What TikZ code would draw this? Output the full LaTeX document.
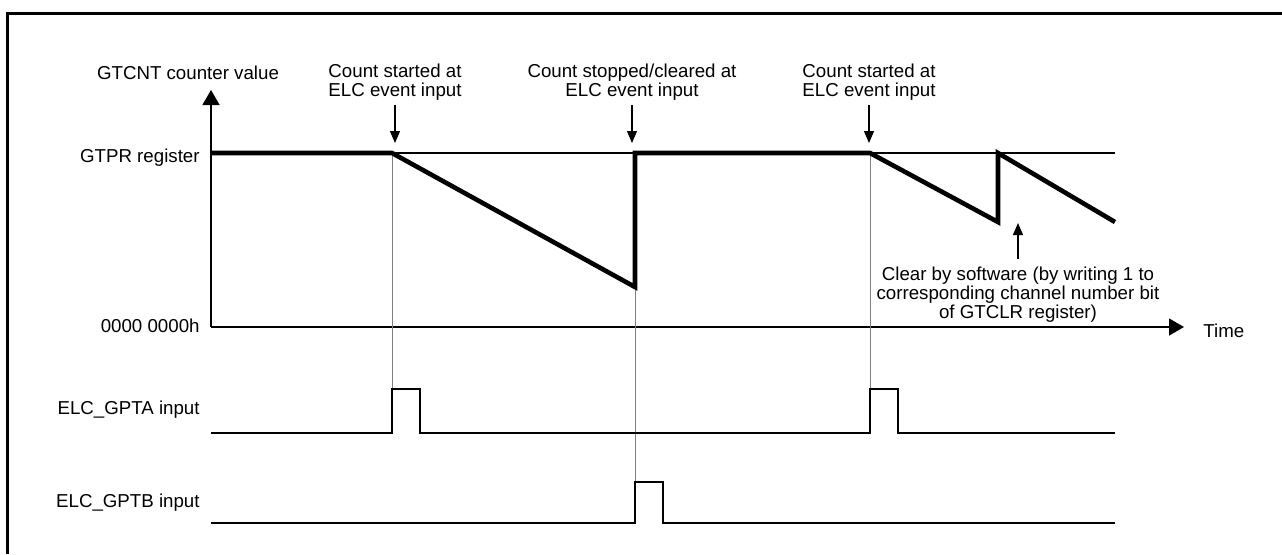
\documentclass[tikz,border=0pt]{standalone}
\usepackage{fontspec}
\setmainfont{Liberation Sans}
\usetikzlibrary{arrows.meta}
\usetikzlibrary{positioning}

\begin{document}
\begin{tikzpicture}[x=0.5pt, y=-0.5pt,
    every node/.style={inner sep=0pt, font=\fontsize{9.35}{9.5}\selectfont},
    lbl/.style={anchor=base east},
    evtext/.style={anchor=north, align=center},
    axis/.style={line width=0.75pt, -{Triangle[length=7.5pt, width=8.5pt]}},
    evarrow/.style={line width=0.6pt, -{Triangle[length=6pt, width=5pt]}},
    counter/.style={line width=2.3pt},
    signal/.style={line width=0.9pt},
    guide/.style={gray, line width=0.5pt}]

        % Page size and cut frame
        \useasboundingbox (0,0) rectangle (1282,554);
        \draw[line width=1.5pt] (7,554) |- (1282,13);

        % Axes
        \coordinate (o) at (211,327);
        \coordinate (ytop) at (211,90);
        \coordinate (xend) at (1184,327);
        \draw[axis] (o) -- (ytop);
        \draw[axis] (o) -- (xend);

        % Counter waveform points
        \coordinate (p0) at (211,153);
        \coordinate (p1) at (392,153);
        \coordinate (p2) at (635,287);
        \coordinate (p3) at (635,153);
        \coordinate (p4) at (870,153);
        \coordinate (p5) at (998,222);
        \coordinate (p6) at (998,153);
        \coordinate (p7) at (1115,222);
        \coordinate (pend) at (1115,153);

        % Guide lines
        \draw[guide] (p1) -- (392,389);
        \draw[guide] (p2) -- (635,482);
        \draw[guide] (p4) -- (870,389);

        % GTPR level and counter value
        \draw[line width=0.75pt] (p0) -- (pend);
        \draw[counter] (p0) -- (p1) -- (p2) -- (p3) -- (p4) -- (p5) -- (p6) -- (p7);

        % Input signals
        \draw[signal] (211,433) -- (392,433) -- (392,389) -- (420,389) -- (420,433)
          -- (870,433) -- (870,389) -- (898,389) -- (898,433) -- (1115,433);
        \draw[signal] (211,523) -- (635,523) -- (635,482) -- (663,482) -- (663,523) -- (1115,523);

        % Axis and signal labels
        \node[anchor=base] (ylab) at (188,79) {GTCNT counter value};
        \node[lbl] (gtpr) at (200,162) {GTPR register};
        \node[lbl] (zero) at (200,332) {0000 0000h};
        \node[lbl] (gpta) at (200,414) {ELC\_GPTA input};
        \node[lbl] (gptb) at (200,507) {ELC\_GPTB input};
        \node[anchor=base west] (time) at (1203,337) {Time};

        % Event annotations
        \node[evtext] (ev1) at (395,64) {Count started at\\ELC event input};
        \node[evtext] (ev2) at (632,64) {Count stopped/cleared at\\ELC event input};
        \node[evtext] (ev3) at (869,64) {Count started at\\ELC event input};
        \coordinate (t1) at (395,143);
        \coordinate (t2) at (632,143);
        \coordinate (t3) at (869,143);
        \draw[evarrow, shorten <=2pt] (ev1.south) -- (t1);
        \draw[evarrow, shorten <=2pt] (ev2.south) -- (t2);
        \draw[evarrow, shorten <=2pt] (ev3.south) -- (t3);

        % Software clear
        \node[evtext] (clr) at (1018,267) {Clear by software (by writing 1 to\\corresponding channel number bit\\of GTCLR register)};
        \coordinate (t4) at (1018,223);
        \draw[evarrow, shorten <=4pt] (clr.north) -- (t4);

      \end{tikzpicture}
\end{document}
